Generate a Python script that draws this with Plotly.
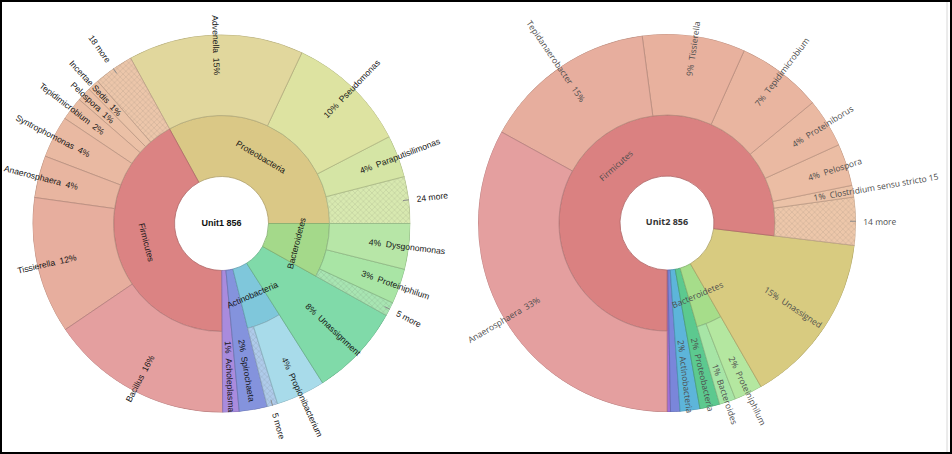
import math
import plotly.graph_objects as go

W, H = 952, 454
R_HOLE, R_MID, R_OUT = 47, 108, 189

# ---- Unit1 : phyla and genera, listed counter-clockwise from 3 o'clock (% of reads)
u1_title = "Unit1 856"
u1_phyla = ["Proteobacteria", "Firmicutes", "Tenericutes", "Spirochaetes",
            "Actinobacteria", "Unassignment", "Bacteroidetes"]
u1_genus = ["24 more", "Paraputisilimonas", "Pseudomonas", "Advenella",
            "18 more", "Incertae Sedis", "Pelospora", "Tepidimicrobium",
            "Syntrophomonas", "Anaerosphaera", "Tissierella", "Bacillus",
            "Acholeplasma",
            "Spirochaeta",
            "5 more", "Propionibacterium",
            "Unassignment",
            "5 more", "Proteiniphilum", "Dysgonomonas"]
u1_parent = ["Proteobacteria"] * 4 + ["Firmicutes"] * 8 + ["Tenericutes", "Spirochaetes"] \
    + ["Actinobacteria"] * 2 + ["Unassignment"] + ["Bacteroidetes"] * 3
u1_pct = [4.0, 3.6, 10.4, 15.0,
          3.4, 1.0, 1.2, 2.0, 3.6, 3.6, 11.7, 15.6,
          1.4,
          2.4,
          0.9, 4.2,
          7.9,
          1.2, 3.0, 3.9]

# ---- Unit2 : listed counter-clockwise from 6 o'clock
u2_title = "Unit2 856"
u2_phyla = ["Tenericutes", "Spirochaetes", "Actinobacteria", "Proteobacteria",
            "Bacteroidetes", "Unassigned", "Firmicutes"]
u2_genus = ["Tenericutes", "Spirochaetes", "Actinobacteria", "Proteobacteria",
            "Bacteroides", "Proteiniphilum", "Unassigned",
            "14 more", "Clostridium sensu stricto 15", "Pelospora", "Proteiniborus",
            "Tepidimicrobium", "Tissierella", "Tepidanaerobacter", "Anaerosphaera"]
u2_parent = ["Tenericutes", "Spirochaetes", "Actinobacteria", "Proteobacteria",
             "Bacteroidetes", "Bacteroidetes", "Unassigned"] + ["Firmicutes"] * 8
u2_pct = [0.3, 0.8, 1.7, 1.7,
          1.4, 2.4, 14.8,
          4.1, 1.0, 3.6, 4.2, 7.3, 8.8, 14.9, 33.0]

# colours
u1_phylum_colors = ["#DAC886", "#DB8383", "#A98BDD", "#8493DD", "#7FC7DB", "#80DAA9", "#A4D98A"]
u1_genus_colors = ["#D8E9B0", "#D5E5A5", "#DDE3A1", "#E1D79D",
                   "#ECC6AA", "#EBC3A8", "#EBC0A6", "#EABDA4", "#E9B9A2", "#E8B5A0", "#E7AE9E", "#E49F9F",
                   "#A98BDD",
                   "#8493DD",
                   "#AFCBEA", "#A8DBEA",
                   "#80DAA9",
                   "#A8E5B2", "#A9E5A5", "#B7E6A7"]
u2_phylum_colors = ["#A070D8", "#7A86DA", "#5DB5DA", "#5CC98F", "#A6DD8A", "#D8CB80", "#DA8181"]
u2_genus_colors = ["#A070D8", "#7A86DA", "#5DB5DA", "#5CC98F",
                   "#A7E5A6", "#B4E7A0", "#D8CB80",
                   "#EDC7AA", "#EBC2A7", "#EBBDA4", "#EAB9A2", "#E9B5A0", "#E8B19E", "#E7AE9E", "#E49F9F"]


def shade(c, f):
    c = c.lstrip("#")
    r, g, b = (int(c[i:i + 2], 16) for i in (0, 2, 4))
    return "rgb(%d,%d,%d)" % (r * f, g * f, b * f)


def norm(t):
    t = t % 360
    return t - 360 if t > 180 else t


def tangent_angle(a):
    t = norm(90 - a)
    if t > 90:
        t -= 180
    if t < -90:
        t += 180
    return t


def to_paper(center, r, a):
    cx, cy = center
    return ((cx + r * math.cos(math.radians(a))) / W,
            (H - cy + r * math.sin(math.radians(a))) / H)


def radial_label(center, text_in, text_out, a, r, font):
    # visible text starts at radius r, an invisible copy balances the centre
    a360 = a % 360
    if 90 < a360 <= 270:
        hidden = '<span style="color:rgba(0,0,0,0)">%s</span>' % text_out
        txt, ang = text_out + hidden, norm(180 - a)
    else:
        hidden = '<span style="color:rgba(0,0,0,0)">%s</span>' % text_in
        txt, ang = hidden + text_in, norm(-a)
    x, y = to_paper(center, r, a)
    return dict(x=x, y=y, xref="paper", yref="paper", text=txt, textangle=ang,
                showarrow=False, xanchor="center", yanchor="middle", font=font)


def add_unit(fig, n, center, title, phyla, phylum_colors, genus, parent, pct, genus_colors,
             rotation, font, title_font):
    sfx = "" if n == 1 else str(n)
    cx, cy = center
    xdom = [(cx - R_OUT) / W, (cx + R_OUT) / W]
    ydom = [(H - cy - R_OUT) / H, (H - cy + R_OUT) / H]

    theta, width, base, length, fill, hatch = [], [], [], [], [], []
    lead_r, lead_t = [], []
    anns = []
    sp = "\u00a0\u00a0"
    pos = 0.0
    for p, pcol in zip(phyla, phylum_colors):
        kids = [i for i, q in enumerate(parent) if q == p]
        span = sum(pct[i] for i in kids)
        if len(kids) > 1:
            theta.append((pos + span / 2) * 3.6)
            width.append(span * 3.6)
            base.append(R_HOLE)
            length.append(R_MID - R_HOLE)
            fill.append(pcol)
            hatch.append("")
            a = rotation + (pos + span / 2) * 3.6
            x, y = to_paper(center, (R_HOLE + R_MID) / 2, a)
            anns.append(dict(x=x, y=y, xref="paper", yref="paper", text=p,
                             textangle=tangent_angle(a), showarrow=False,
                             xanchor="center", yanchor="middle", font=font))
            r0 = R_MID
        else:
            r0 = R_HOLE
        for i in kids:
            mid = (pos + pct[i] / 2) * 3.6
            more = genus[i].endswith(" more")
            theta.append(mid)
            width.append(pct[i] * 3.6)
            base.append(r0)
            length.append(R_OUT - r0)
            fill.append(genus_colors[i])
            hatch.append("x" if more else "")
            a = rotation + mid
            if more:
                lead_r += [R_OUT - 6, R_OUT + 5, None]
                lead_t += [mid, mid, None]
                anns.append(radial_label(center, genus[i], genus[i], a, R_OUT + 8, font))
            elif pct[i] >= 1:
                pc = "%d%%" % round(pct[i])
                anns.append(radial_label(center, pc + sp + genus[i], genus[i] + sp + pc, a,
                                         (r0 + R_OUT) / 2, font))
            pos += pct[i]

    polar = "polar" + sfx
    fig.add_trace(go.Barpolar(
        subplot=polar, theta=theta, width=width, base=base, r=length,
        marker=dict(color=fill,
                    line=dict(color=[shade(c, 0.8) for c in fill], width=0.8),
                    pattern=dict(shape=hatch, fgcolor=[shade(c, 0.78) for c in fill],
                                 fgopacity=0.45, size=4, solidity=0.12, fillmode="overlay")),
        hoverinfo="skip", showlegend=False,
    ))
    fig.add_trace(go.Scatterpolar(
        subplot=polar, r=lead_r, theta=lead_t, mode="lines",
        line=dict(color="#8a8a8a", width=1), hoverinfo="skip", showlegend=False,
    ))
    fig.add_trace(go.Scatterpolar(
        subplot=polar, r=[0], theta=[0], mode="text",
        text=["<b>%s</b>" % title], textfont=title_font,
        hoverinfo="skip", showlegend=False,
    ))
    fig.update_layout({
        polar: dict(domain=dict(x=xdom, y=ydom), bgcolor="rgba(0,0,0,0)",
                    radialaxis=dict(visible=False, range=[0, R_OUT]),
                    angularaxis=dict(visible=False, rotation=rotation,
                                     direction="counterclockwise")),
    })
    return anns


fig = go.Figure()
left_font = dict(family="Liberation Sans, Arial, sans-serif", size=8.6, color="#151515")
right_font = dict(family="Open Sans, sans-serif", size=8.5, color="#4d4d4d")

anns = add_unit(fig, 1, (221.5, 223.5), u1_title, u1_phyla, u1_phylum_colors, u1_genus,
                u1_parent, u1_pct, u1_genus_colors, 0, left_font,
                dict(family="Liberation Sans, Arial, sans-serif", size=9, color="#111"))
anns += add_unit(fig, 2, (667, 223), u2_title, u2_phyla, u2_phylum_colors, u2_genus,
                 u2_parent, u2_pct, u2_genus_colors, -90, right_font,
                 dict(family="Open Sans, sans-serif", size=9, color="#333"))

fig.update_layout(
    width=W, height=H,
    margin=dict(l=0, r=0, t=0, b=0),
    paper_bgcolor="white", plot_bgcolor="rgba(0,0,0,0)",
    showlegend=False,
    annotations=anns,
    shapes=[
        dict(type="line", xref="paper", yref="paper", x0=947 / W, x1=947 / W, y0=0, y1=1,
             line=dict(color="#d8d8d8", width=1)),
        dict(type="rect", xref="paper", yref="paper", x0=0, x1=1, y0=0, y1=1,
             line=dict(color="black", width=4)),
    ],
)

fig.write_html("out.html", config={"displayModeBar": False},
               post_script="document.body.style.margin='0';"
                           "document.body.style.overflow='hidden';")
